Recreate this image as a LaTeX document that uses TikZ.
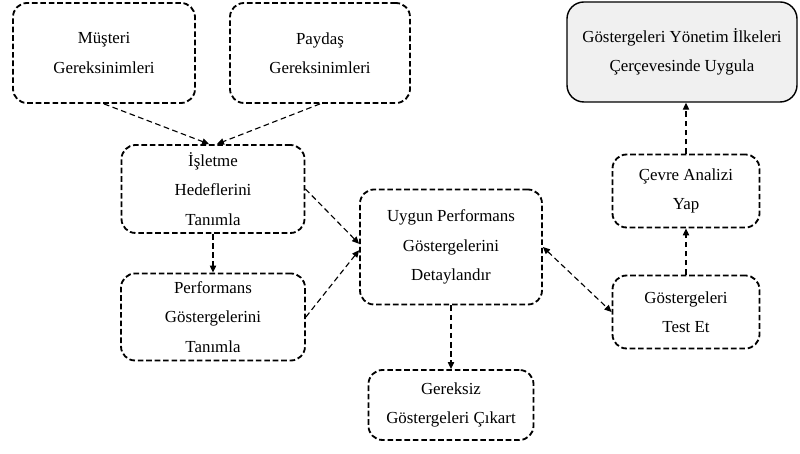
\documentclass[tikz,border=0pt]{standalone}
\usepackage{fontspec}
\setmainfont{Liberation Serif}
\usetikzlibrary{arrows.meta}
\begin{document}
\begin{tikzpicture}
[step box/.style={rectangle,rounded corners=10pt,draw,line width=1.3pt,
   dash pattern=on 4pt off 2pt,align=center,inner sep=0pt,
   font=\fontsize{12}{21}\selectfont},
goal box/.style={rectangle,rounded corners=12pt,draw,line width=1pt,
   fill=black!6,align=center,inner sep=0pt,font=\fontsize{12}{21}\selectfont},
link/.style={line width=0.8pt,dash pattern=on 4pt off 2.5pt,
   -{Triangle[length=5pt,width=4.5pt]}}]
\useasboundingbox (0,0) rectangle (20,11.35);
% top row
\node[step box,minimum width=4.55cm,minimum height=2.5cm] (musteri) at (2.6,10.025) {Müşteri\\Gereksinimleri};
\node[step box,minimum width=4.5cm,minimum height=2.5cm] (paydas) at (8.0,10.025) {Paydaş\\Gereksinimleri};
\node[goal box,minimum width=5.75cm,minimum height=2.5cm] (yonetim) at (17.05,10.05) {Göstergeleri Yönetim İlkeleri\\Çerçevesinde Uygula};
% left column
\node[step box,minimum width=4.575cm,minimum height=2.2cm] (isletme) at (5.325,6.625) {İşletme\\Hedeflerini\\Tanımla};
\node[step box,minimum width=4.6cm,minimum height=2.175cm] (performans) at (5.325,3.425) {Performans\\Göstergelerini\\Tanımla};
% middle
\node[step box,minimum width=4.55cm,minimum height=2.875cm] (uygun) at (11.275,5.175) {Uygun Performans\\Göstergelerini\\Detaylandır};
\node[step box,minimum width=4.125cm,minimum height=1.75cm] (gereksiz) at (11.275,1.225) {Gereksiz\\Göstergeleri Çıkart};
% right column
\node[step box,minimum width=3.675cm,minimum height=1.825cm] (cevre) at (17.15,6.575) {Çevre Analizi\\Yap};
\node[step box,minimum width=3.675cm,minimum height=1.825cm] (test) at (17.15,3.55) {Göstergeleri\\Test Et};
% connectors
\draw[link] (musteri.south) -- (isletme.95);
\draw[link] (paydas.south) -- (isletme.85);
\draw[link] (isletme.south) -- (performans.north);
\draw[link] (isletme.east) -- (uygun.178);
\draw[link] (performans.east) -- (uygun.182);
\draw[link] (uygun.south) -- (gereksiz.north);
\draw[link,{Triangle[length=5pt,width=4.5pt]}-{Triangle[length=5pt,width=4.5pt]}] (uygun.east) -- (test.west);
\draw[link] (test.north) -- (cevre.south);
\draw[link] (cevre.north) -- (cevre.north |- yonetim.south);
\end{tikzpicture}
\end{document}
